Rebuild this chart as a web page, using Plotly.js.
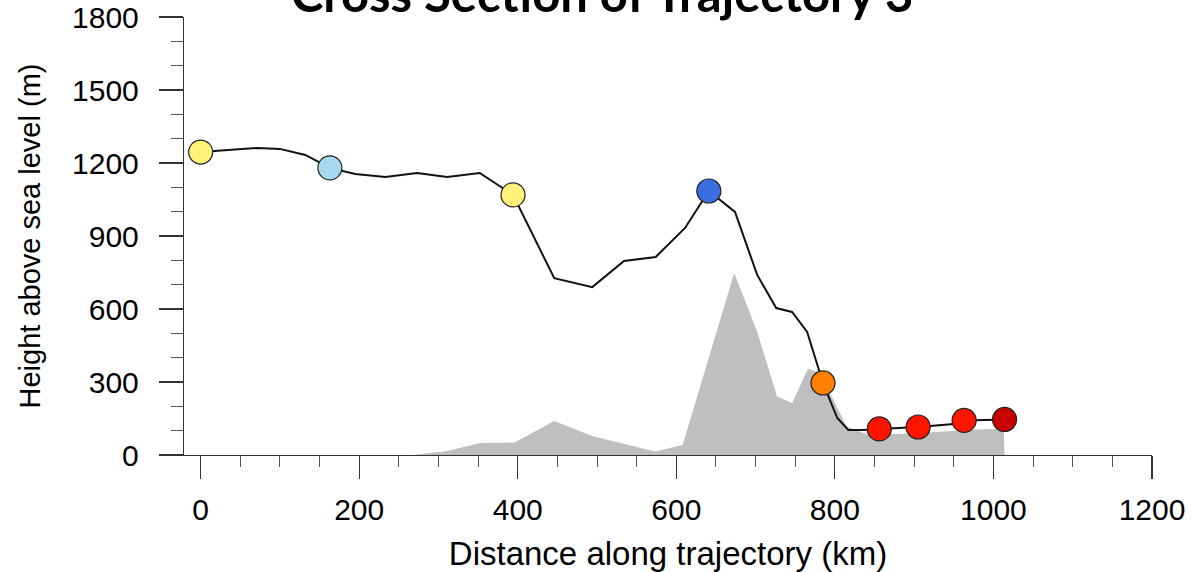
<!DOCTYPE html>
<html>
<head>
<meta charset="utf-8">
<script src="https://cdn.plot.ly/plotly-3.0.1.min.js"></script>
<style>html,body{margin:0;padding:0;background:#fff;}#chart{width:1191px;height:572px;}</style>
</head>
<body>
<div id="chart"></div>
<script>
// Trajectory path (distance km, height m)
const trajX = [0, 72, 100, 132, 163, 195, 233, 273, 311, 352, 394, 446, 494, 534, 574, 611, 641, 674, 702, 726, 746, 765, 785, 803, 817, 836, 856, 905, 950, 963, 1014];
const trajY = [1245, 1262, 1258, 1233, 1180, 1155, 1142, 1159, 1142, 1159, 1069, 727, 690, 797, 814, 933, 1085, 999, 740, 604, 588, 506, 296, 152, 103, 103, 107, 115, 127, 142, 146];

// Marked trajectory points
const markX = [0, 163, 394, 641, 785, 856, 905, 963, 1014];
const markY = [1245, 1180, 1069, 1085, 296, 107, 115, 142, 146];
const markColors = ['#fff27a', '#a8d8f0', '#fff27a', '#3a6ee0', '#ff8000', '#ff1400', '#ff1400', '#ff1400', '#c80000'];

// Terrain height along trajectory
const terrX = [0, 268, 311, 353, 396, 446, 494, 573, 608, 673, 702, 727, 746, 766, 781, 797, 815, 841, 880, 918, 945, 980, 1013, 1014];
const terrY = [0, 0, 16, 49, 51, 140, 78, 14, 41, 748, 506, 241, 213, 354, 337, 235, 116, 84, 86, 92, 98, 105, 108, 0];

const xTicks = [0, 200, 400, 600, 800, 1000, 1200];
const yTicks = [0, 300, 600, 900, 1200, 1500, 1800];
const titleText = 'Cross Section of Trajectory 3';

const tickFont = {family: 'Liberation Sans, Arial, sans-serif', size: 30, color: '#000'};

const data = [
  {x: terrX, y: terrY, type: 'scatter', mode: 'lines', fill: 'tozeroy',
   fillcolor: '#bfbfbf', line: {width: 0, color: '#bfbfbf'}, hoverinfo: 'skip'},
  {x: trajX, y: trajY, type: 'scatter', mode: 'lines',
   line: {color: '#111', width: 2}},
  {x: markX, y: markY, type: 'scatter', mode: 'markers',
   marker: {size: 24, color: markColors, line: {color: '#222', width: 1.2}}}
];

const layout = {
  width: 1191, height: 572,
  margin: {l: 184, r: 39, t: 17, b: 117},
  paper_bgcolor: '#fff', plot_bgcolor: '#fff',
  showlegend: false,
  annotations: [{
    text: '<b>' + titleText + '</b>', showarrow: false,
    xref: 'paper', yref: 'paper', x: 0.432, y: 0.984,
    xanchor: 'center', yanchor: 'bottom',
    font: {family: 'Lato, Open Sans, sans-serif', size: 49, color: '#000'}
  }],
  xaxis: {
    range: [-21, 1200], tickvals: xTicks, ticktext: xTicks.map(String),
    ticks: 'outside', ticklen: 23, tickwidth: 1.2, tickcolor: '#333',
    showline: true, linecolor: '#333', linewidth: 1.2,
    showgrid: false, zeroline: false, tickfont: tickFont,
    ticklabelstandoff: 5,
    minor: {dtick: 50, ticks: 'outside', ticklen: 11, tickwidth: 1, tickcolor: '#555', showgrid: false},
    title: {text: 'Distance along trajectory (km)', standoff: 16,
            font: {family: 'Liberation Sans, Arial, sans-serif', size: 33, color: '#000'}}
  },
  yaxis: {
    range: [0, 1800], tickvals: yTicks, ticktext: yTicks.map(String),
    ticks: 'outside', ticklen: 24, tickwidth: 1.2, tickcolor: '#333',
    showline: true, linecolor: '#333', linewidth: 1.2,
    showgrid: false, zeroline: false, tickfont: tickFont,
    ticklabelstandoff: 14,
    minor: {dtick: 100, ticks: 'outside', ticklen: 12, tickwidth: 1, tickcolor: '#555', showgrid: false},
    title: {text: 'Height above sea level (m)', standoff: 22,
            font: {family: 'Liberation Sans, Arial, sans-serif', size: 29, color: '#000'}}
  }
};

Plotly.newPlot('chart', data, layout, {displayModeBar: false, staticPlot: true});
</script>
</body>
</html>
